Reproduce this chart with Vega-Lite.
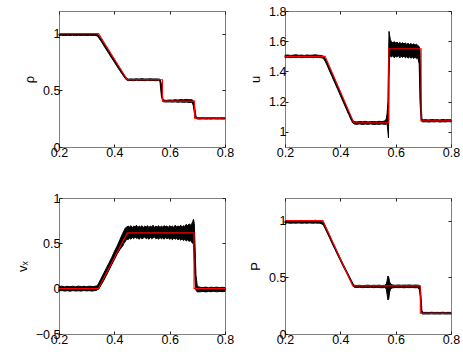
{
"$schema": "https://vega.github.io/schema/vega-lite/v6.json",
"padding": {"left": 15, "top": 4, "right": 0, "bottom": 0},
"background": "white",
"bounds": "flush",
"columns": 2,
"spacing": {"row": 51, "column": 60},
"config": {
  "view": {"stroke": "#808080", "strokeWidth": 1},
  "axis": {"domain": false, "grid": false, "tickColor": "#222", "tickSize": -3, "labelFont": "Liberation Sans", "labelFontSize": 12.5, "labelColor": "#000", "labelFlush": false, "labelOverlap": false, "titleFont": "Liberation Sans", "titleFontSize": 13, "titleFontWeight": "normal", "titleColor": "#000", "labelPadding": 2, "titlePadding": 6, "zindex": 1, "format": "~g"}
},
"datasets": {
"black": [
{"p":"r","x":0.2,"lo":0.984,"hi":0.998},{"p":"r","x":0.21,"lo":0.986,"hi":0.997},{"p":"r","x":0.22,"lo":0.983,"hi":0.999},{"p":"r","x":0.23,"lo":0.985,"hi":0.996},{"p":"r","x":0.24,"lo":0.984,"hi":0.998},{"p":"r","x":0.25,"lo":0.986,"hi":0.997},{"p":"r","x":0.26,"lo":0.983,"hi":0.999},{"p":"r","x":0.27,"lo":0.985,"hi":0.996},{"p":"r","x":0.28,"lo":0.984,"hi":0.998},{"p":"r","x":0.29,"lo":0.986,"hi":0.999},{"p":"r","x":0.3,"lo":0.983,"hi":0.997},{"p":"r","x":0.31,"lo":0.985,"hi":0.998},{"p":"r","x":0.32,"lo":0.984,"hi":0.999},{"p":"r","x":0.33,"lo":0.985,"hi":0.998},{"p":"r","x":0.335,"lo":0.982,"hi":0.997},{"p":"r","x":0.34,"lo":0.974,"hi":0.992},{"p":"r","x":0.345,"lo":0.958,"hi":0.977},{"p":"r","x":0.35,"lo":0.94,"hi":0.96},{"p":"r","x":0.36,"lo":0.902,"hi":0.921},{"p":"r","x":0.37,"lo":0.863,"hi":0.882},{"p":"r","x":0.38,"lo":0.824,"hi":0.843},{"p":"r","x":0.39,"lo":0.786,"hi":0.805},{"p":"r","x":0.4,"lo":0.748,"hi":0.767},{"p":"r","x":0.41,"lo":0.71,"hi":0.728},{"p":"r","x":0.42,"lo":0.673,"hi":0.691},{"p":"r","x":0.43,"lo":0.637,"hi":0.655},{"p":"r","x":0.44,"lo":0.603,"hi":0.62},{"p":"r","x":0.445,"lo":0.59,"hi":0.605},{"p":"r","x":0.45,"lo":0.586,"hi":0.599},{"p":"r","x":0.46,"lo":0.587,"hi":0.601},{"p":"r","x":0.47,"lo":0.585,"hi":0.599},{"p":"r","x":0.48,"lo":0.588,"hi":0.602},{"p":"r","x":0.49,"lo":0.586,"hi":0.6},{"p":"r","x":0.5,"lo":0.587,"hi":0.603},{"p":"r","x":0.51,"lo":0.585,"hi":0.6},{"p":"r","x":0.52,"lo":0.588,"hi":0.601},{"p":"r","x":0.53,"lo":0.586,"hi":0.602},{"p":"r","x":0.54,"lo":0.587,"hi":0.6},{"p":"r","x":0.55,"lo":0.585,"hi":0.601},{"p":"r","x":0.56,"lo":0.586,"hi":0.6},{"p":"r","x":0.565,"lo":0.578,"hi":0.598},{"p":"r","x":0.57,"lo":0.45,"hi":0.56},{"p":"r","x":0.575,"lo":0.402,"hi":0.43},{"p":"r","x":0.58,"lo":0.398,"hi":0.413},{"p":"r","x":0.59,"lo":0.397,"hi":0.412},{"p":"r","x":0.6,"lo":0.398,"hi":0.415},{"p":"r","x":0.61,"lo":0.396,"hi":0.413},{"p":"r","x":0.62,"lo":0.398,"hi":0.418},{"p":"r","x":0.63,"lo":0.395,"hi":0.414},{"p":"r","x":0.64,"lo":0.397,"hi":0.419},{"p":"r","x":0.65,"lo":0.394,"hi":0.416},{"p":"r","x":0.66,"lo":0.396,"hi":0.42},{"p":"r","x":0.67,"lo":0.393,"hi":0.417},{"p":"r","x":0.68,"lo":0.395,"hi":0.418},{"p":"r","x":0.685,"lo":0.37,"hi":0.41},{"p":"r","x":0.69,"lo":0.29,"hi":0.36},{"p":"r","x":0.695,"lo":0.252,"hi":0.27},{"p":"r","x":0.7,"lo":0.247,"hi":0.26},{"p":"r","x":0.71,"lo":0.246,"hi":0.258},{"p":"r","x":0.72,"lo":0.248,"hi":0.259},{"p":"r","x":0.73,"lo":0.246,"hi":0.257},{"p":"r","x":0.74,"lo":0.247,"hi":0.259},{"p":"r","x":0.75,"lo":0.246,"hi":0.258},{"p":"r","x":0.76,"lo":0.248,"hi":0.259},{"p":"r","x":0.77,"lo":0.246,"hi":0.257},{"p":"r","x":0.78,"lo":0.247,"hi":0.258},{"p":"r","x":0.79,"lo":0.246,"hi":0.259},{"p":"r","x":0.8,"lo":0.247,"hi":0.258},

{"p":"u","x":0.2,"lo":1.492,"hi":1.507},{"p":"u","x":0.21,"lo":1.494,"hi":1.509},{"p":"u","x":0.22,"lo":1.491,"hi":1.506},{"p":"u","x":0.23,"lo":1.493,"hi":1.508},{"p":"u","x":0.24,"lo":1.492,"hi":1.51},{"p":"u","x":0.25,"lo":1.494,"hi":1.507},{"p":"u","x":0.26,"lo":1.491,"hi":1.508},{"p":"u","x":0.27,"lo":1.493,"hi":1.506},{"p":"u","x":0.28,"lo":1.492,"hi":1.509},{"p":"u","x":0.29,"lo":1.494,"hi":1.507},{"p":"u","x":0.3,"lo":1.491,"hi":1.508},{"p":"u","x":0.31,"lo":1.493,"hi":1.51},{"p":"u","x":0.32,"lo":1.492,"hi":1.507},{"p":"u","x":0.33,"lo":1.491,"hi":1.506},{"p":"u","x":0.335,"lo":1.489,"hi":1.504},{"p":"u","x":0.34,"lo":1.483,"hi":1.499},{"p":"u","x":0.345,"lo":1.468,"hi":1.486},{"p":"u","x":0.35,"lo":1.449,"hi":1.467},{"p":"u","x":0.36,"lo":1.407,"hi":1.425},{"p":"u","x":0.37,"lo":1.366,"hi":1.384},{"p":"u","x":0.38,"lo":1.324,"hi":1.342},{"p":"u","x":0.39,"lo":1.283,"hi":1.301},{"p":"u","x":0.4,"lo":1.241,"hi":1.259},{"p":"u","x":0.41,"lo":1.199,"hi":1.217},{"p":"u","x":0.42,"lo":1.158,"hi":1.176},{"p":"u","x":0.43,"lo":1.116,"hi":1.134},{"p":"u","x":0.44,"lo":1.076,"hi":1.093},{"p":"u","x":0.445,"lo":1.058,"hi":1.075},{"p":"u","x":0.45,"lo":1.052,"hi":1.068},{"p":"u","x":0.46,"lo":1.05,"hi":1.066},{"p":"u","x":0.47,"lo":1.053,"hi":1.069},{"p":"u","x":0.48,"lo":1.049,"hi":1.067},{"p":"u","x":0.49,"lo":1.052,"hi":1.07},{"p":"u","x":0.5,"lo":1.05,"hi":1.066},{"p":"u","x":0.51,"lo":1.053,"hi":1.068},{"p":"u","x":0.52,"lo":1.049,"hi":1.069},{"p":"u","x":0.53,"lo":1.051,"hi":1.067},{"p":"u","x":0.54,"lo":1.05,"hi":1.07},{"p":"u","x":0.55,"lo":1.052,"hi":1.068},{"p":"u","x":0.56,"lo":1.05,"hi":1.072},{"p":"u","x":0.566,"lo":1.05,"hi":1.085},{"p":"u","x":0.569,"lo":1.06,"hi":1.12},{"p":"u","x":0.572,"lo":1.0,"hi":1.2},{"p":"u","x":0.574,"lo":0.96,"hi":1.45},{"p":"u","x":0.576,"lo":1.35,"hi":1.665},{"p":"u","x":0.578,"lo":1.5,"hi":1.64},{"p":"u","x":0.581,"lo":1.5,"hi":1.61},{"p":"u","x":0.585,"lo":1.495,"hi":1.595},{"p":"u","x":0.59,"lo":1.505,"hi":1.59},{"p":"u","x":0.595,"lo":1.49,"hi":1.598},{"p":"u","x":0.6,"lo":1.5,"hi":1.588},{"p":"u","x":0.605,"lo":1.495,"hi":1.594},{"p":"u","x":0.61,"lo":1.505,"hi":1.585},{"p":"u","x":0.615,"lo":1.49,"hi":1.592},{"p":"u","x":0.62,"lo":1.5,"hi":1.584},{"p":"u","x":0.625,"lo":1.493,"hi":1.59},{"p":"u","x":0.63,"lo":1.502,"hi":1.582},{"p":"u","x":0.635,"lo":1.49,"hi":1.588},{"p":"u","x":0.64,"lo":1.498,"hi":1.58},{"p":"u","x":0.645,"lo":1.488,"hi":1.586},{"p":"u","x":0.65,"lo":1.497,"hi":1.578},{"p":"u","x":0.655,"lo":1.487,"hi":1.585},{"p":"u","x":0.66,"lo":1.495,"hi":1.577},{"p":"u","x":0.665,"lo":1.486,"hi":1.583},{"p":"u","x":0.67,"lo":1.494,"hi":1.575},{"p":"u","x":0.675,"lo":1.485,"hi":1.58},{"p":"u","x":0.68,"lo":1.49,"hi":1.572},{"p":"u","x":0.685,"lo":1.45,"hi":1.565},{"p":"u","x":0.688,"lo":1.2,"hi":1.54},{"p":"u","x":0.692,"lo":1.075,"hi":1.2},{"p":"u","x":0.695,"lo":1.068,"hi":1.085},{"p":"u","x":0.7,"lo":1.066,"hi":1.08},{"p":"u","x":0.71,"lo":1.067,"hi":1.081},{"p":"u","x":0.72,"lo":1.065,"hi":1.079},{"p":"u","x":0.73,"lo":1.067,"hi":1.082},{"p":"u","x":0.74,"lo":1.066,"hi":1.08},{"p":"u","x":0.75,"lo":1.068,"hi":1.081},{"p":"u","x":0.76,"lo":1.065,"hi":1.079},{"p":"u","x":0.77,"lo":1.067,"hi":1.082},{"p":"u","x":0.78,"lo":1.066,"hi":1.08},{"p":"u","x":0.79,"lo":1.068,"hi":1.081},{"p":"u","x":0.8,"lo":1.066,"hi":1.08},

{"p":"v","x":0.2,"lo":-0.025,"hi":0.022},{"p":"v","x":0.21,"lo":-0.02,"hi":0.028},{"p":"v","x":0.22,"lo":-0.027,"hi":0.02},{"p":"v","x":0.23,"lo":-0.022,"hi":0.026},{"p":"v","x":0.24,"lo":-0.028,"hi":0.021},{"p":"v","x":0.25,"lo":-0.021,"hi":0.027},{"p":"v","x":0.26,"lo":-0.026,"hi":0.02},{"p":"v","x":0.27,"lo":-0.023,"hi":0.028},{"p":"v","x":0.28,"lo":-0.027,"hi":0.022},{"p":"v","x":0.29,"lo":-0.02,"hi":0.026},{"p":"v","x":0.3,"lo":-0.025,"hi":0.021},{"p":"v","x":0.31,"lo":-0.022,"hi":0.028},{"p":"v","x":0.32,"lo":-0.027,"hi":0.023},{"p":"v","x":0.33,"lo":-0.021,"hi":0.026},{"p":"v","x":0.335,"lo":-0.02,"hi":0.03},{"p":"v","x":0.34,"lo":-0.01,"hi":0.04},{"p":"v","x":0.345,"lo":0.0,"hi":0.07},{"p":"v","x":0.35,"lo":0.03,"hi":0.1},{"p":"v","x":0.36,"lo":0.08,"hi":0.16},{"p":"v","x":0.37,"lo":0.14,"hi":0.22},{"p":"v","x":0.38,"lo":0.2,"hi":0.28},{"p":"v","x":0.39,"lo":0.26,"hi":0.34},{"p":"v","x":0.4,"lo":0.32,"hi":0.41},{"p":"v","x":0.41,"lo":0.38,"hi":0.47},{"p":"v","x":0.42,"lo":0.43,"hi":0.54},{"p":"v","x":0.43,"lo":0.47,"hi":0.61},{"p":"v","x":0.435,"lo":0.5,"hi":0.64},{"p":"v","x":0.44,"lo":0.52,"hi":0.67},{"p":"v","x":0.445,"lo":0.55,"hi":0.68},{"p":"v","x":0.45,"lo":0.54,"hi":0.69},{"p":"v","x":0.455,"lo":0.56,"hi":0.68},{"p":"v","x":0.46,"lo":0.545,"hi":0.695},{"p":"v","x":0.465,"lo":0.565,"hi":0.675},{"p":"v","x":0.47,"lo":0.55,"hi":0.69},{"p":"v","x":0.475,"lo":0.57,"hi":0.68},{"p":"v","x":0.48,"lo":0.555,"hi":0.7},{"p":"v","x":0.485,"lo":0.56,"hi":0.675},{"p":"v","x":0.49,"lo":0.545,"hi":0.69},{"p":"v","x":0.495,"lo":0.565,"hi":0.68},{"p":"v","x":0.5,"lo":0.55,"hi":0.695},{"p":"v","x":0.505,"lo":0.56,"hi":0.675},{"p":"v","x":0.51,"lo":0.57,"hi":0.69},{"p":"v","x":0.515,"lo":0.55,"hi":0.68},{"p":"v","x":0.52,"lo":0.56,"hi":0.695},{"p":"v","x":0.525,"lo":0.545,"hi":0.675},{"p":"v","x":0.53,"lo":0.565,"hi":0.69},{"p":"v","x":0.535,"lo":0.55,"hi":0.68},{"p":"v","x":0.54,"lo":0.56,"hi":0.7},{"p":"v","x":0.545,"lo":0.57,"hi":0.675},{"p":"v","x":0.55,"lo":0.55,"hi":0.69},{"p":"v","x":0.555,"lo":0.56,"hi":0.68},{"p":"v","x":0.56,"lo":0.545,"hi":0.695},{"p":"v","x":0.565,"lo":0.565,"hi":0.675},{"p":"v","x":0.57,"lo":0.55,"hi":0.69},{"p":"v","x":0.575,"lo":0.56,"hi":0.68},{"p":"v","x":0.58,"lo":0.545,"hi":0.695},{"p":"v","x":0.585,"lo":0.565,"hi":0.685},{"p":"v","x":0.59,"lo":0.55,"hi":0.69},{"p":"v","x":0.595,"lo":0.56,"hi":0.675},{"p":"v","x":0.6,"lo":0.545,"hi":0.695},{"p":"v","x":0.605,"lo":0.555,"hi":0.68},{"p":"v","x":0.61,"lo":0.54,"hi":0.69},{"p":"v","x":0.615,"lo":0.56,"hi":0.675},{"p":"v","x":0.62,"lo":0.545,"hi":0.7},{"p":"v","x":0.625,"lo":0.555,"hi":0.68},{"p":"v","x":0.63,"lo":0.54,"hi":0.69},{"p":"v","x":0.635,"lo":0.55,"hi":0.685},{"p":"v","x":0.64,"lo":0.535,"hi":0.7},{"p":"v","x":0.645,"lo":0.55,"hi":0.68},{"p":"v","x":0.65,"lo":0.53,"hi":0.695},{"p":"v","x":0.655,"lo":0.545,"hi":0.685},{"p":"v","x":0.66,"lo":0.525,"hi":0.71},{"p":"v","x":0.665,"lo":0.54,"hi":0.69},{"p":"v","x":0.67,"lo":0.52,"hi":0.715},{"p":"v","x":0.675,"lo":0.535,"hi":0.7},{"p":"v","x":0.68,"lo":0.51,"hi":0.72},{"p":"v","x":0.683,"lo":0.5,"hi":0.735},{"p":"v","x":0.686,"lo":0.49,"hi":0.765},{"p":"v","x":0.689,"lo":0.3,"hi":0.72},{"p":"v","x":0.692,"lo":0.1,"hi":0.45},{"p":"v","x":0.695,"lo":-0.02,"hi":0.15},{"p":"v","x":0.7,"lo":-0.035,"hi":0.025},{"p":"v","x":0.71,"lo":-0.035,"hi":0.015},{"p":"v","x":0.72,"lo":-0.03,"hi":0.012},{"p":"v","x":0.73,"lo":-0.036,"hi":0.018},{"p":"v","x":0.74,"lo":-0.031,"hi":0.011},{"p":"v","x":0.75,"lo":-0.034,"hi":0.016},{"p":"v","x":0.76,"lo":-0.029,"hi":0.013},{"p":"v","x":0.77,"lo":-0.035,"hi":0.017},{"p":"v","x":0.78,"lo":-0.03,"hi":0.012},{"p":"v","x":0.79,"lo":-0.033,"hi":0.015},{"p":"v","x":0.8,"lo":-0.031,"hi":0.013},

{"p":"P","x":0.2,"lo":0.978,"hi":1.0},{"p":"P","x":0.21,"lo":0.98,"hi":0.998},{"p":"P","x":0.22,"lo":0.977,"hi":1.001},{"p":"P","x":0.23,"lo":0.979,"hi":0.999},{"p":"P","x":0.24,"lo":0.978,"hi":1.0},{"p":"P","x":0.25,"lo":0.98,"hi":0.998},{"p":"P","x":0.26,"lo":0.977,"hi":1.002},{"p":"P","x":0.27,"lo":0.979,"hi":0.999},{"p":"P","x":0.28,"lo":0.978,"hi":1.0},{"p":"P","x":0.29,"lo":0.98,"hi":0.998},{"p":"P","x":0.3,"lo":0.977,"hi":1.001},{"p":"P","x":0.31,"lo":0.979,"hi":1.003},{"p":"P","x":0.32,"lo":0.978,"hi":0.999},{"p":"P","x":0.325,"lo":0.977,"hi":1.0},{"p":"P","x":0.33,"lo":0.975,"hi":0.997},{"p":"P","x":0.335,"lo":0.968,"hi":0.99},{"p":"P","x":0.34,"lo":0.955,"hi":0.978},{"p":"P","x":0.345,"lo":0.93,"hi":0.953},{"p":"P","x":0.35,"lo":0.905,"hi":0.928},{"p":"P","x":0.36,"lo":0.853,"hi":0.876},{"p":"P","x":0.37,"lo":0.8,"hi":0.822},{"p":"P","x":0.38,"lo":0.749,"hi":0.77},{"p":"P","x":0.39,"lo":0.698,"hi":0.719},{"p":"P","x":0.4,"lo":0.648,"hi":0.668},{"p":"P","x":0.41,"lo":0.598,"hi":0.618},{"p":"P","x":0.42,"lo":0.55,"hi":0.57},{"p":"P","x":0.43,"lo":0.502,"hi":0.522},{"p":"P","x":0.44,"lo":0.455,"hi":0.473},{"p":"P","x":0.445,"lo":0.43,"hi":0.448},{"p":"P","x":0.45,"lo":0.413,"hi":0.43},{"p":"P","x":0.46,"lo":0.41,"hi":0.428},{"p":"P","x":0.47,"lo":0.412,"hi":0.43},{"p":"P","x":0.48,"lo":0.409,"hi":0.427},{"p":"P","x":0.49,"lo":0.411,"hi":0.429},{"p":"P","x":0.5,"lo":0.41,"hi":0.431},{"p":"P","x":0.51,"lo":0.412,"hi":0.428},{"p":"P","x":0.52,"lo":0.409,"hi":0.43},{"p":"P","x":0.53,"lo":0.411,"hi":0.429},{"p":"P","x":0.54,"lo":0.41,"hi":0.431},{"p":"P","x":0.55,"lo":0.408,"hi":0.428},{"p":"P","x":0.56,"lo":0.41,"hi":0.43},{"p":"P","x":0.566,"lo":0.4,"hi":0.44},{"p":"P","x":0.569,"lo":0.35,"hi":0.47},{"p":"P","x":0.572,"lo":0.3,"hi":0.512},{"p":"P","x":0.575,"lo":0.31,"hi":0.5},{"p":"P","x":0.578,"lo":0.37,"hi":0.46},{"p":"P","x":0.582,"lo":0.4,"hi":0.44},{"p":"P","x":0.59,"lo":0.408,"hi":0.432},{"p":"P","x":0.6,"lo":0.41,"hi":0.43},{"p":"P","x":0.61,"lo":0.409,"hi":0.433},{"p":"P","x":0.62,"lo":0.41,"hi":0.43},{"p":"P","x":0.63,"lo":0.408,"hi":0.432},{"p":"P","x":0.64,"lo":0.41,"hi":0.431},{"p":"P","x":0.65,"lo":0.409,"hi":0.433},{"p":"P","x":0.66,"lo":0.41,"hi":0.43},{"p":"P","x":0.67,"lo":0.408,"hi":0.432},{"p":"P","x":0.68,"lo":0.409,"hi":0.431},{"p":"P","x":0.685,"lo":0.395,"hi":0.43},{"p":"P","x":0.689,"lo":0.33,"hi":0.42},{"p":"P","x":0.692,"lo":0.22,"hi":0.32},{"p":"P","x":0.695,"lo":0.178,"hi":0.205},{"p":"P","x":0.7,"lo":0.176,"hi":0.19},{"p":"P","x":0.71,"lo":0.177,"hi":0.191},{"p":"P","x":0.72,"lo":0.176,"hi":0.19},{"p":"P","x":0.73,"lo":0.178,"hi":0.192},{"p":"P","x":0.74,"lo":0.176,"hi":0.19},{"p":"P","x":0.75,"lo":0.177,"hi":0.191},{"p":"P","x":0.76,"lo":0.176,"hi":0.19},{"p":"P","x":0.77,"lo":0.178,"hi":0.192},{"p":"P","x":0.78,"lo":0.176,"hi":0.19},{"p":"P","x":0.79,"lo":0.177,"hi":0.191},{"p":"P","x":0.8,"lo":0.176,"hi":0.19}
],
"red": [
{"p":"r","x":0.2,"y":1},{"p":"r","x":0.343,"y":1},{"p":"r","x":0.447,"y":0.594},{"p":"r","x":0.574,"y":0.594},{"p":"r","x":0.5741,"y":0.405},{"p":"r","x":0.69,"y":0.405},{"p":"r","x":0.6901,"y":0.255},{"p":"r","x":0.8,"y":0.255},
{"p":"u","x":0.2,"y":1.5},{"p":"u","x":0.345,"y":1.5},{"p":"u","x":0.449,"y":1.06},{"p":"u","x":0.575,"y":1.06},{"p":"u","x":0.5751,"y":1.55},{"p":"u","x":0.692,"y":1.55},{"p":"u","x":0.6921,"y":1.073},{"p":"u","x":0.8,"y":1.073},
{"p":"v","x":0.2,"y":0},{"p":"v","x":0.342,"y":0},{"p":"v","x":0.447,"y":0.615},{"p":"v","x":0.688,"y":0.615},{"p":"v","x":0.6881,"y":0},{"p":"v","x":0.8,"y":0},
{"p":"P","x":0.2,"y":1},{"p":"P","x":0.337,"y":1},{"p":"P","x":0.445,"y":0.425},{"p":"P","x":0.689,"y":0.425},{"p":"P","x":0.6891,"y":0.183},{"p":"P","x":0.8,"y":0.183}
]
},
"concat": [
{
 "width": 166, "height": 136,
 "layer": [
  {"data": {"name": "black"}, "transform": [{"filter": "datum.p == 'r'"}],
   "mark": {"type": "area", "color": "black", "stroke": "black", "strokeWidth": 1},
   "encoding": {
    "x": {"field": "x", "type": "quantitative", "scale": {"domain": [0.2, 0.8], "nice": false, "zero": false}, "axis": {"orient": "bottom", "values": [0.2, 0.4, 0.6, 0.8], "title": null}},
    "y": {"field": "lo", "type": "quantitative", "scale": {"domain": [0, 1.2], "nice": false, "zero": false}, "axis": {"orient": "left", "values": [0, 0.5, 1], "title": "ρ"}},
    "y2": {"field": "hi"}}},
  {"data": {"name": "red"}, "transform": [{"filter": "datum.p == 'r'"}],
   "mark": {"type": "line", "color": "#ff0000", "strokeWidth": 1.1},
   "encoding": {
    "x": {"field": "x", "type": "quantitative", "axis": {"orient": "top", "values": [0.2, 0.4, 0.6, 0.8], "labels": false, "title": null}},
    "y": {"field": "y", "type": "quantitative", "axis": {"orient": "right", "values": [0, 0.5, 1], "labels": false, "title": null}}}}
 ],
 "resolve": {"axis": {"x": "independent", "y": "independent"}}
},
{
 "width": 166, "height": 136,
 "layer": [
  {"data": {"name": "black"}, "transform": [{"filter": "datum.p == 'u'"}],
   "mark": {"type": "area", "color": "black", "stroke": "black", "strokeWidth": 1},
   "encoding": {
    "x": {"field": "x", "type": "quantitative", "scale": {"domain": [0.2, 0.8], "nice": false, "zero": false}, "axis": {"orient": "bottom", "values": [0.2, 0.4, 0.6, 0.8], "title": null}},
    "y": {"field": "lo", "type": "quantitative", "scale": {"domain": [0.9, 1.8], "nice": false, "zero": false}, "axis": {"orient": "left", "values": [1, 1.2, 1.4, 1.6, 1.8], "title": "u"}},
    "y2": {"field": "hi"}}},
  {"data": {"name": "red"}, "transform": [{"filter": "datum.p == 'u'"}],
   "mark": {"type": "line", "color": "#ff0000", "strokeWidth": 1.1},
   "encoding": {
    "x": {"field": "x", "type": "quantitative", "axis": {"orient": "top", "values": [0.2, 0.4, 0.6, 0.8], "labels": false, "title": null}},
    "y": {"field": "y", "type": "quantitative", "axis": {"orient": "right", "values": [1, 1.2, 1.4, 1.6, 1.8], "labels": false, "title": null}}}}
 ],
 "resolve": {"axis": {"x": "independent", "y": "independent"}}
},
{
 "width": 166, "height": 136,
 "layer": [
  {"data": {"name": "black"}, "transform": [{"filter": "datum.p == 'v'"}],
   "mark": {"type": "area", "color": "black", "stroke": "black", "strokeWidth": 1},
   "encoding": {
    "x": {"field": "x", "type": "quantitative", "scale": {"domain": [0.2, 0.8], "nice": false, "zero": false}, "axis": {"orient": "bottom", "values": [0.2, 0.4, 0.6, 0.8], "title": null}},
    "y": {"field": "lo", "type": "quantitative", "scale": {"domain": [-0.5, 1], "nice": false, "zero": false}, "axis": {"orient": "left", "values": [-0.5, 0, 0.5, 1], "title": "vₓ"}},
    "y2": {"field": "hi"}}},
  {"data": {"name": "red"}, "transform": [{"filter": "datum.p == 'v'"}],
   "mark": {"type": "line", "color": "#ff0000", "strokeWidth": 1.1},
   "encoding": {
    "x": {"field": "x", "type": "quantitative", "axis": {"orient": "top", "values": [0.2, 0.4, 0.6, 0.8], "labels": false, "title": null}},
    "y": {"field": "y", "type": "quantitative", "axis": {"orient": "right", "values": [-0.5, 0, 0.5, 1], "labels": false, "title": null}}}}
 ],
 "resolve": {"axis": {"x": "independent", "y": "independent"}}
},
{
 "width": 166, "height": 136,
 "layer": [
  {"data": {"name": "black"}, "transform": [{"filter": "datum.p == 'P'"}],
   "mark": {"type": "area", "color": "black", "stroke": "black", "strokeWidth": 1},
   "encoding": {
    "x": {"field": "x", "type": "quantitative", "scale": {"domain": [0.2, 0.8], "nice": false, "zero": false}, "axis": {"orient": "bottom", "values": [0.2, 0.4, 0.6, 0.8], "title": null}},
    "y": {"field": "lo", "type": "quantitative", "scale": {"domain": [0, 1.2], "nice": false, "zero": false}, "axis": {"orient": "left", "values": [0, 0.5, 1], "title": "P"}},
    "y2": {"field": "hi"}}},
  {"data": {"name": "red"}, "transform": [{"filter": "datum.p == 'P'"}],
   "mark": {"type": "line", "color": "#ff0000", "strokeWidth": 1.1},
   "encoding": {
    "x": {"field": "x", "type": "quantitative", "axis": {"orient": "top", "values": [0.2, 0.4, 0.6, 0.8], "labels": false, "title": null}},
    "y": {"field": "y", "type": "quantitative", "axis": {"orient": "right", "values": [0, 0.5, 1], "labels": false, "title": null}}}}
 ],
 "resolve": {"axis": {"x": "independent", "y": "independent"}}
}
]
}
